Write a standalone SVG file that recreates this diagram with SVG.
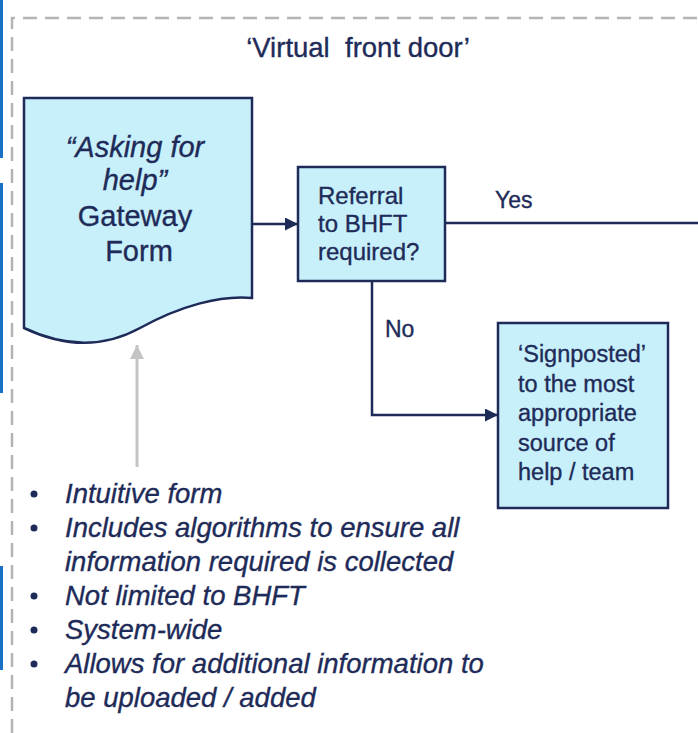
<svg xmlns="http://www.w3.org/2000/svg" width="698" height="733" viewBox="0 0 698 733">
<style>
.t{font-family:"Liberation Sans",Arial,sans-serif;fill:#1e2b58;stroke:#1e2b58;stroke-width:0.35}
.box{fill:#c8f0fb;stroke:#1e2b58;stroke-width:2.5}
.ln{fill:none;stroke:#1e2b58;stroke-width:2.5}
.it{font-style:italic}
</style>
<defs>
<marker id="ah" viewBox="0 0 10 10" refX="10" refY="5" markerWidth="13" markerHeight="13" markerUnits="userSpaceOnUse" orient="auto">
<path d="M0,0 L10,5 L0,10 Z" fill="#1e2b58"/>
</marker>
<marker id="ahg" viewBox="0 0 10 10" refX="10" refY="5" markerWidth="14" markerHeight="18" markerUnits="userSpaceOnUse" orient="auto">
<path d="M0,0 L10,5 L0,10 Z" fill="#c4c4c4"/>
</marker>
</defs>
<rect width="698" height="733" fill="#ffffff"/>
<g id="edge">
<rect x="0" y="0" width="3" height="158" fill="#1870c4"/>
<rect x="0" y="183" width="3" height="210" fill="#1870c4"/>
<rect x="0" y="566" width="3" height="104" fill="#1870c4"/>
</g>
<path id="frame" d="M12,733 V18 H698" fill="none" stroke="#b4b4b4" stroke-width="2.5" stroke-dasharray="14 8"/>
<text class="t" x="358" y="57" font-size="27.5" text-anchor="middle" xml:space="preserve">‘Virtual  front door’</text>
<g id="connectors">
<line class="ln" x1="252" y1="224" x2="298" y2="224" marker-end="url(#ah)"/>
<line class="ln" x1="445" y1="223" x2="698" y2="223"/>
<polyline class="ln" points="372,281 372,415 498,415" marker-end="url(#ah)"/>
<line x1="137" y1="467" x2="137" y2="345" stroke="#c4c4c4" stroke-width="3" marker-end="url(#ahg)"/>
<text class="t" x="495" y="208" font-size="23">Yes</text>
<text class="t" x="385" y="337" font-size="23">No</text>
</g>
<g id="gateway">
<path class="box" d="M24,98 H252 V298 C220,295 180,306 140,328 C100,350 60,345 24,328 Z"/>
<text class="t" font-size="29" text-anchor="middle">
<tspan class="it" x="139" y="157">“Asking for</tspan>
<tspan class="it" x="139" y="190">help”</tspan>
<tspan x="139" y="226">Gateway</tspan>
<tspan x="139" y="261">Form</tspan>
</text>
</g>
<g id="decision">
<rect class="box" x="298" y="167" width="147" height="114"/>
<text class="t" font-size="24">
<tspan x="318" y="204">Referral</tspan>
<tspan x="318" y="232">to BHFT</tspan>
<tspan x="318" y="260">required?</tspan>
</text>
</g>
<g id="signposted">
<rect class="box" x="498" y="323" width="170" height="185"/>
<text class="t" font-size="23.5">
<tspan x="518" y="362">‘Signposted’</tspan>
<tspan x="518" y="391.5">to the most</tspan>
<tspan x="518" y="421">appropriate</tspan>
<tspan x="518" y="450.5">source of</tspan>
<tspan x="518" y="480">help / team</tspan>
</text>
</g>
<g id="notes">
<g fill="#1e2b58">
<circle cx="34" cy="494" r="3.5"/>
<circle cx="34" cy="528" r="3.5"/>
<circle cx="34" cy="596" r="3.5"/>
<circle cx="34" cy="630" r="3.5"/>
<circle cx="34" cy="664" r="3.5"/>
</g>
<text class="t it" font-size="27.5">
<tspan x="65" y="503">Intuitive form</tspan>
<tspan x="65" y="537">Includes algorithms to ensure all</tspan>
<tspan x="65" y="571">information required is collected</tspan>
<tspan x="65" y="605">Not limited to BHFT</tspan>
<tspan x="65" y="639">System-wide</tspan>
<tspan x="65" y="673">Allows for additional information to</tspan>
<tspan x="65" y="707">be uploaded / added</tspan>
</text>
</g>
</svg>
